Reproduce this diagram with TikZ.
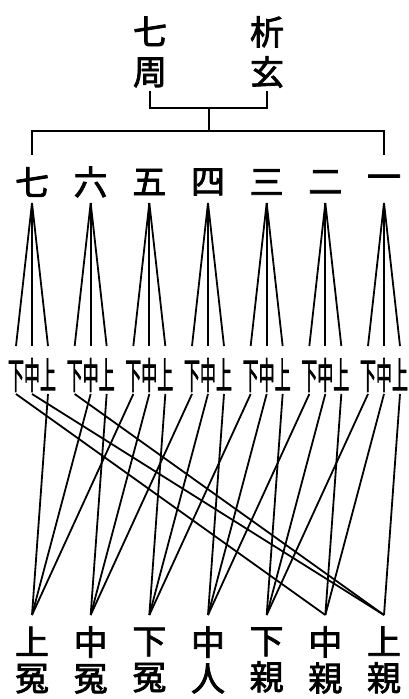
\documentclass[tikz,border=0pt]{standalone}
\usepackage{fontspec}
\newfontfamily\cjk[FakeBold=2.2]{Noto Sans CJK JP}
\usepackage{graphicx}
\usetikzlibrary{positioning,calc}

\begin{document}
\begin{tikzpicture}[
      x=1pt, y=1pt,
      title/.style={font=\cjk\fontsize{34}{40}\selectfont, align=center, inner sep=0pt},
      round/.style={font=\cjk\fontsize{34}{34}\selectfont, inner sep=0pt},
      grade/.style={font=\cjk\fontsize{16}{16}\selectfont, inner sep=0pt, anchor=base},
      person/.style={font=\cjk\fontsize{34}{36}\selectfont, align=center, inner sep=0pt},
      branch/.style={line width=2pt},
      link/.style={line width=1.8pt}
  ]
    \useasboundingbox (0,0) rectangle (408,-699);

    \node [title] (qizhou) at (150,-52) {七\\周};
    \node [title] (xixuan) at (267,-52) {析\\玄};

    % Tree
    \coordinate (top) at (209,-108);
    \coordinate (bar) at (209,-131);
    \coordinate (left) at (32,-155);
    \coordinate (right) at (384,-155);
    \draw [branch] ([yshift=-3pt]qizhou.south) |- (top) -| ([yshift=-3pt]xixuan.south);
    \draw [branch] (top) -- (bar);
    \draw [branch] (left) |- (bar) -| (right);

    % Rounds
    \foreach \num [count=\g from 0] in {七,六,五,四,三,二,一} {
      \node [round] (n-\g) at (32+58.667*\g,-182) {\num};
      \coordinate (a-\g) at (32+58.667*\g,-203);
    }

    % Grades
    \foreach \g in {0,...,6} {
      \foreach \k/\t in {0/上,1/中,2/下} {
        \node [grade] (s-\g-\k) at (32+58.667*\g+16-16*\k,-389) {\scalebox{1}[2.3]{\t}};
        \draw [link] (a-\g) -- ([yshift=43pt]s-\g-\k.base);
      }
    }

    % People
    \foreach \a/\b [count=\j from 0] in {上/冤,中/冤,下/冤,中/人,下/親,中/親,上/親} {
      \node [person] (p-\j) at (32+58.667*\j,-660) {\a\\\b};
      \coordinate (b-\j) at (32+58.667*\j,-615);
    }

    \foreach \g in {0,...,6} {
      \foreach \k in {0,1,2} {
        \pgfmathtruncatemacro\j{mod(\g-\k+7,7)}
        \draw [link] ([yshift=-5pt]s-\g-\k.base) -- (b-\j);
      }
    }
  \end{tikzpicture}
\end{document}
